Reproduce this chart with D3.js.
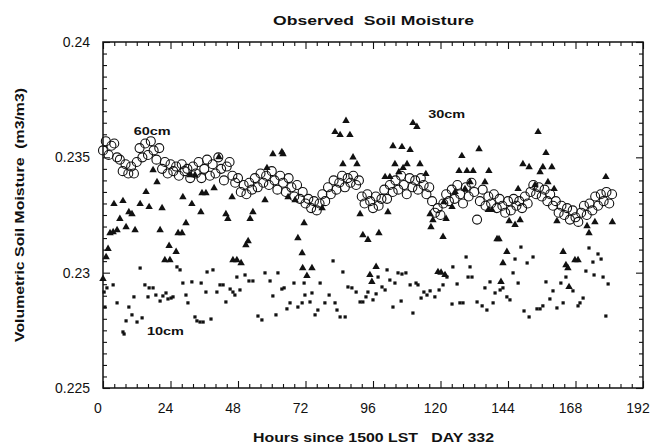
<!DOCTYPE html>
<html>
<head>
<meta charset="utf-8">
<script src="https://cdn.jsdelivr.net/npm/d3@7"></script>
<style>
body { margin: 0; background: #fff; }
text { font-family: "Liberation Sans", Arial, Helvetica, sans-serif; fill: #111; }
</style>
</head>
<body>
<div id="chart"></div>
<script>
var W = 654, H = 445;

// 60cm, one value per hour starting at hour 0
var cm60 = [
	0.2353, 0.2357, 0.2351, 0.2355, 0.2356, 0.2350, 0.2349, 0.2344, 0.2347, 0.2343,
	0.2346, 0.2343, 0.2348, 0.2354, 0.2350, 0.2356, 0.2351, 0.2357, 0.2353, 0.2349,
	0.2354, 0.2345, 0.2348, 0.2343, 0.2347, 0.2344, 0.2346, 0.2342, 0.2347, 0.2344,
	0.2345, 0.2341, 0.2346, 0.2343, 0.2348, 0.2341, 0.2345, 0.2349, 0.2342, 0.2347,
	0.2343, 0.2350, 0.2345, 0.2340, 0.2346, 0.2348, 0.2342, 0.2339, 0.2341, 0.2335,
	0.2338, 0.2334, 0.2339, 0.2336, 0.2341, 0.2337, 0.2343, 0.2339, 0.2342, 0.2338,
	0.2344, 0.2340, 0.2336, 0.2342, 0.2339, 0.2335, 0.2341, 0.2337, 0.2333, 0.2338,
	0.2332, 0.2335, 0.2330, 0.2332, 0.2328, 0.2331, 0.2327, 0.2330, 0.2334, 0.2331,
	0.2337, 0.2334, 0.2340, 0.2336, 0.2339, 0.2342, 0.2337, 0.2341, 0.2339, 0.2342,
	0.2338, 0.2340, 0.2333, 0.2330, 0.2334, 0.2331, 0.2328, 0.2333, 0.2329, 0.2332,
	0.2336, 0.2332, 0.2338, 0.2335, 0.2340, 0.2336, 0.2342, 0.2338, 0.2334, 0.2341,
	0.2337, 0.2340, 0.2336, 0.2341, 0.2338, 0.2334, 0.2337, 0.2331, 0.2326, 0.2328,
	0.2325, 0.2330, 0.2334, 0.2331, 0.2336, 0.2332, 0.2338, 0.2334, 0.2330, 0.2337,
	0.2333, 0.2339, 0.2335, 0.2323, 0.2331, 0.2336, 0.2329, 0.2333, 0.2330, 0.2334,
	0.2328, 0.2332, 0.2329, 0.2326, 0.2331, 0.2327, 0.2332, 0.2329, 0.2331, 0.2328,
	0.2333, 0.2330, 0.2335, 0.2338, 0.2334, 0.2337, 0.2333, 0.2336, 0.2331, 0.2334,
	0.2329, 0.2331, 0.2326, 0.2329, 0.2325, 0.2328, 0.2323, 0.2327, 0.2324, 0.2322,
	0.2326, 0.2329, 0.2325, 0.2330, 0.2327, 0.2333, 0.2329, 0.2334, 0.2331, 0.2335,
	0.2330, 0.2334
];

// 30cm, [hour, value]
var cm30 = [
	[0.0,0.22973],[1.1,0.23068],[1.8,0.23103],[2.5,0.23172],[3.6,0.23176],[3.9,0.23298],
	[5.0,0.23185],[6.0,0.23233],[7.1,0.23311],[8.2,0.23198],[9.2,0.23263],[10.3,0.23254],
	[11.4,0.23185],[13.2,0.23298],[15.3,0.2335],[16.4,0.23285],[17.8,0.23445],[19.2,0.23393],
	[20.3,0.23185],[21.0,0.2328],[22.0,0.23055],[23.5,0.23116],[23.8,0.23055],[26.0,0.2309],
	[26.7,0.23172],[28.1,0.23172],[28.4,0.23328],[29.5,0.23215],[30.9,0.23423],[31.6,0.23298],
	[32.7,0.23423],[34.8,0.23263],[35.2,0.23345],[36.6,0.23345],[39.5,0.23367],[41.2,0.23501],
	[43.7,0.23254],[44.4,0.23233],[45.9,0.23328],[46.2,0.23055],[47.6,0.23055],[49.1,0.23042],
	[50.8,0.2312],[51.6,0.23137],[52.3,0.23233],[53.3,0.23263],[57.6,0.23315],[58.3,0.23454],
	[60.4,0.23514],[63.6,0.23523],[64.0,0.23514],[65.8,0.23328],[68.3,0.23315],[69.3,0.2315],
	[70.8,0.23085],[71.5,0.23215],[71.0,0.2302],[72.5,0.22986],[74.3,0.2302],[77.9,0.2328],
	[82.5,0.2361],[84.3,0.23597],[85.3,0.23471],[86.4,0.23658],[87.8,0.23597],[88.9,0.235],
	[90.3,0.23471],[91.4,0.23254],[92.4,0.23163],[94.2,0.23142],[94.9,0.2299],[95.6,0.2296],
	[97.1,0.23025],[98.1,0.23172],[100.3,0.23415],[101.3,0.23263],[102.0,0.23415],[103.1,0.23549],
	[103.8,0.23471],[105.2,0.23436],[106.3,0.23545],[106.7,0.23454],[108.1,0.23471],[109.2,0.23532],
	[110.2,0.23649],[111.6,0.23632],[112.7,0.23471],[114.8,0.23428],[116.3,0.23254],[116.6,0.23198],
	[117.3,0.23228],[119.1,0.23003],[120.2,0.23],[120.9,0.23155],[121.2,0.23306],[121.6,0.2299],
	[122.0,0.23233],[124.1,0.23285],[125.2,0.2335],[126.6,0.23441],[127.6,0.23506],[128.7,0.23363],
	[129.4,0.23441],[130.5,0.23393],[131.6,0.23441],[133.7,0.23536],[135.8,0.23393],[137.2,0.23441],
	[137.0,0.23272],[138.3,0.23272],[140.1,0.23146],[140.8,0.23146],[141.5,0.2296],[142.2,0.23042],
	[143.6,0.2309],[144.4,0.23224],[146.5,0.23207],[147.6,0.23363],[148.3,0.23228],[149.3,0.23471],
	[151.5,0.23458],[153.6,0.2338],[154.7,0.2361],[155.4,0.23436],[156.4,0.23458],[157.5,0.23519],
	[158.2,0.23393],[159.6,0.23458],[160.4,0.23363],[161.4,0.23224],[163.6,0.2309],[164.6,0.23033],
	[165.3,0.2302],[165.7,0.22938],[167.8,0.23055],[168.9,0.23055],[172.1,0.23202],[172.8,0.23172],
	[174.9,0.23219],[178.8,0.23415],[181.1,0.23219]
];

// 10cm, [hour, value]
var cm10 = [
	[0.4,0.22916],[0.7,0.22851],[1.4,0.22934],[3.6,0.22947],[5.0,0.22869],[7.1,0.22743],
	[7.5,0.22734],[8.2,0.22791],[9.2,0.22851],[10.3,0.22817],[11.0,0.22895],[12.1,0.22786],
	[13.2,0.2302],[13.9,0.22804],[14.9,0.22947],[16.0,0.22895],[16.4,0.22934],[17.8,0.22934],
	[18.8,0.22903],[20.3,0.22877],[21.3,0.22899],[22.4,0.22912],[23.1,0.22886],[24.2,0.2289],
	[24.9,0.22895],[26.3,0.23025],[27.4,0.23012],[28.4,0.22955],[29.5,0.22903],[30.2,0.22869],
	[31.6,0.2296],[32.7,0.22808],[33.4,0.22791],[34.5,0.22786],[34.9,0.22955],[35.6,0.22786],
	[36.6,0.22916],[37.0,0.23003],[38.4,0.22799],[39.1,0.23012],[40.5,0.22916],[41.6,0.22947],
	[42.7,0.22947],[43.7,0.22873],[45.2,0.22929],[46.2,0.22916],[46.9,0.22903],[47.6,0.22981],
	[48.7,0.22925],[50.5,0.2299],[51.9,0.22964],[53.3,0.22964],[55.1,0.22812],[56.5,0.22795],
	[57.6,0.22999],[59.4,0.22964],[60.4,0.22899],[61.5,0.22817],[62.2,0.22999],[63.6,0.22929],
	[64.4,0.22934],[65.4,0.22843],[66.5,0.22869],[67.9,0.22955],[69.3,0.22851],[70.8,0.22869],
	[71.5,0.22955],[71.8,0.22903],[73.6,0.22873],[74.3,0.22912],[75.4,0.22817],[76.4,0.22838],
	[77.2,0.22955],[78.9,0.22869],[80.4,0.22903],[81.8,0.23051],[82.5,0.22869],[83.2,0.22838],
	[84.3,0.22808],[85.3,0.23003],[86.1,0.22808],[87.1,0.22938],[88.5,0.22934],[90.0,0.22916],
	[91.4,0.22873],[92.4,0.22873],[93.5,0.22895],[94.2,0.22916],[96.0,0.22882],[97.1,0.22908],
	[97.8,0.22981],[99.2,0.22938],[100.3,0.22925],[101.0,0.23012],[102.0,0.22968],[103.1,0.22851],
	[103.8,0.22955],[104.9,0.22999],[106.3,0.22994],[106.0,0.22877],[107.7,0.22999],[109.2,0.22947],
	[110.2,0.22825],[111.3,0.22955],[112.0,0.22947],[113.1,0.2289],[114.1,0.22916],[115.2,0.22903],
	[116.3,0.22921],[118.0,0.22895],[119.5,0.22925],[120.9,0.22947],[122.3,0.22981],[124.1,0.22864],
	[124.4,0.23025],[125.9,0.22951],[126.9,0.22869],[128.0,0.22869],[129.1,0.23068],[129.8,0.22981],
	[130.5,0.23025],[131.2,0.22981],[133.0,0.22873],[134.8,0.22856],[135.8,0.22934],[136.5,0.22838],
	[137.6,0.2296],[138.7,0.22869],[139.4,0.22912],[141.2,0.22925],[142.2,0.22934],[143.6,0.22895],
	[144.7,0.22882],[145.8,0.22999],[146.5,0.23059],[147.6,0.22955],[148.6,0.23111],[149.7,0.22834],
	[150.8,0.23042],[151.5,0.22808],[152.9,0.23068],[154.3,0.22843],[155.4,0.22843],[156.4,0.22856],
	[157.5,0.2296],[158.9,0.22886],[160.0,0.22921],[161.4,0.22847],[162.8,0.22955],[163.6,0.22869],
	[164.6,0.22981],[167.1,0.22921],[168.9,0.22856],[169.6,0.22869],[170.7,0.2289],[171.7,0.23007],
	[172.8,0.23107],[174.2,0.23046],[174.6,0.2299],[176.0,0.23081],[177.1,0.23059],[177.8,0.22981],
	[178.8,0.22812],[179.6,0.22951]
];

var xMajor = [0, 24, 48, 72, 96, 120, 144, 168, 192];
var yMajor = [0.225, 0.23, 0.235, 0.24];
var yLabels = ["0.225", "0.23", "0.235", "0.24"];
var seriesLabels = [
	{text: "60cm", hour: 10.9, value: 0.23598},
	{text: "30cm", hour: 115.6, value: 0.23670},
	{text: "10cm", hour: 15.6, value: 0.22730}
];

var x = d3.scaleLinear().domain([0, 192]).range([103, 643]);
var y = d3.scaleLinear().domain([0.225, 0.24]).range([388, 42]);

var svg = d3.select("#chart").append("svg")
	.attr("width", W)
	.attr("height", H);

var xMinor = d3.range(0, 193, 4).filter(d => d % 24 !== 0);
var yMinor = d3.range(0, 31).map(i => 0.225 + i * 0.0005).filter((d, i) => i % 10 !== 0);

function drawTicks(axis, tx, ty, values, size) {
	var g = svg.append("g")
		.attr("transform", "translate(" + tx + "," + ty + ")")
		.call(axis.tickValues(values).tickSize(size).tickFormat(""));
	g.select(".domain").remove();
	g.selectAll("line").attr("stroke", "#111").attr("stroke-width", 1.1);
	return g;
}

// inward ticks on all four sides
drawTicks(d3.axisBottom(x), 0, 388, xMinor, -4);
drawTicks(d3.axisBottom(x), 0, 388, xMajor, -7);
drawTicks(d3.axisTop(x), 0, 42, xMinor, -4);
drawTicks(d3.axisTop(x), 0, 42, xMajor, -7);
drawTicks(d3.axisLeft(y), 103, 0, yMinor, -4);
drawTicks(d3.axisLeft(y), 103, 0, yMajor, -7);
drawTicks(d3.axisRight(y), 643, 0, yMinor, -4);
drawTicks(d3.axisRight(y), 643, 0, yMajor, -7);

svg.append("rect")
	.attr("x", x(0))
	.attr("y", y(0.24))
	.attr("width", x(192) - x(0))
	.attr("height", y(0.225) - y(0.24))
	.attr("fill", "none")
	.attr("stroke", "#111")
	.attr("stroke-width", 1.5);

// tick labels
svg.append("g").selectAll("text")
	.data(xMajor)
	.enter()
	.append("text")
	.attr("x", d => x(d) - 5)
	.attr("y", 413)
	.attr("text-anchor", "middle")
	.style("font-size", "14px")
	.text(d => d);

svg.append("g").selectAll("text")
	.data(yMajor)
	.enter()
	.append("text")
	.attr("x", 90)
	.attr("y", d => y(d) + 5)
	.attr("text-anchor", "end")
	.style("font-size", "14px")
	.text((d, i) => yLabels[i]);

// 10cm squares
svg.append("g").selectAll("rect")
	.data(cm10)
	.enter()
	.append("rect")
	.attr("x", d => x(d[0]) - 1.6)
	.attr("y", d => y(d[1]) - 1.6)
	.attr("width", 3.2)
	.attr("height", 3.2)
	.attr("fill", "#111");

// 60cm open circles
svg.append("g").selectAll("circle")
	.data(cm60)
	.enter()
	.append("circle")
	.attr("cx", (d, i) => x(i))
	.attr("cy", d => y(d))
	.attr("r", 4.5)
	.attr("fill", "none")
	.attr("stroke", "#111")
	.attr("stroke-width", 1.1);

// 30cm filled triangles
var tri = d3.symbol().type(d3.symbolTriangle).size(24);
svg.append("g").selectAll("path")
	.data(cm30)
	.enter()
	.append("path")
	.attr("d", tri)
	.attr("transform", d => "translate(" + x(d[0]) + "," + y(d[1]) + ")")
	.attr("fill", "#111");

svg.append("g").selectAll("text")
	.data(seriesLabels)
	.enter()
	.append("text")
	.attr("x", d => x(d.hour))
	.attr("y", d => y(d.value))
	.attr("textLength", 37)
	.attr("lengthAdjust", "spacingAndGlyphs")
	.style("font-size", "11px")
	.style("font-weight", "bold")
	.text(d => d.text);

// titles
svg.append("text")
	.attr("x", 273)
	.attr("y", 25)
	.attr("textLength", 201)
	.attr("lengthAdjust", "spacingAndGlyphs")
	.style("font-size", "13.5px")
	.style("font-weight", "bold")
	.style("white-space", "pre")
	.text("Observed  Soil Moisture");

svg.append("text")
	.attr("x", 253)
	.attr("y", 442)
	.attr("textLength", 241)
	.attr("lengthAdjust", "spacingAndGlyphs")
	.style("font-size", "12px")
	.style("font-weight", "bold")
	.style("white-space", "pre")
	.text("Hours since 1500 LST   DAY 332");

svg.append("text")
	.attr("transform", "translate(24,215) rotate(-90)")
	.attr("text-anchor", "middle")
	.attr("textLength", 254)
	.attr("lengthAdjust", "spacingAndGlyphs")
	.style("font-size", "12px")
	.style("font-weight", "bold")
	.style("white-space", "pre")
	.text("Volumetric Soil Moisture  (m3/m3)");
</script>
</body>
</html>
